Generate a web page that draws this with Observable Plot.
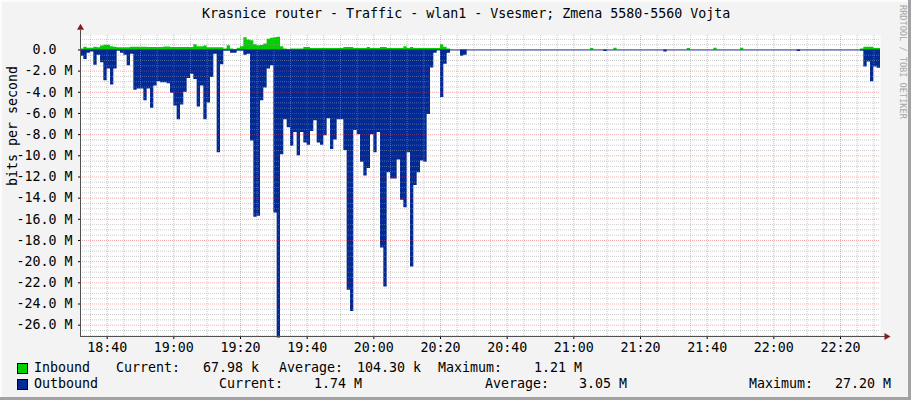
<!DOCTYPE html>
<html><head><meta charset="utf-8">
<script src="https://cdn.jsdelivr.net/npm/d3@7"></script>
<script src="https://cdn.jsdelivr.net/npm/@observablehq/plot@0.6"></script>
<style>
body{margin:0;background:#F3F3F3;}
#c{position:relative;width:911px;height:400px;background:#F3F3F3;overflow:hidden;font-family:"DejaVu Sans Mono",monospace;font-size:13.3px;color:#000;}
.t{position:absolute;white-space:pre;line-height:16px;}
.sw{position:absolute;width:9px;height:9px;border:1px solid #000;}
</style></head>
<body><div id="c"></div>
<script>
// Series values in Mbit/s, one per minute starting 18:32 (up to 22:32)
const inbound = [
 0.1,0.25,0.15,0.15,0.25,0.2,0.38,0.44,0.44,0.3, 0.25,0.2,0.2,0.2,0.2,0.25,0.25,0.25,0.25,0.25,
 0.22,0.22,0.22,0.22,0.22,0.27,0.27,0.22,0.22,0.22, 0.22,0.22,0.22,0.22,0.5,0.3,0.3,0.38,0.2,0.2,
 0.2,0.2,0.2,0.1,0.4,0.1,0.05,0.15,0.3,1.15, 0.95,0.88,0.5,0.4,0.42,0.57,1.0,1.1,1.15,1.21,
 0.3,0.1,0.03,0.1,0.1,0.1,0.1,0.22,0.22,0.13, 0.13,0.13,0.13,0.13,0.13,0.13,0.13,0.13,0.13,0.22,
 0.22,0.22,0.13,0.13,0.13,0.13,0.22,0.13,0.13,0.13, 0.22,0.22,0.13,0.13,0.13,0.13,0.13,0.3,0.13,0.22,
 0.13,0.13,0.13,0.13,0.13,0.13,0.13,0.13,0.5,0.25, 0.1,0.03,0,0,0,0,0,0,0,0,
 0,0,0,0,0,0,0,0,0,0, 0,0,0,0,0,0,0,0,0,0,
 0,0,0,0,0,0,0,0,0,0, 0,0,0,0.13,0,0,0,0,0,0,
 0.15,0,0,0,0,0,0,0,0,0, 0,0,0,0,0,0,0,0,0,0,
 0,0,0.13,0,0,0,0,0,0,0, 0.15,0,0,0,0,0,0,0,0.15,0,
 0,0,0,0,0,0,0,0,0,0, 0,0,0,0,0,0,0,0,0,0,
 0,0,0,0,0,0,0,0,0,0, 0,0,0,0,0.1,0.26,0.26,0.26,0.13,0.13,
 0.068
];
const outbound = [
 0.6,0.9,0.3,0.2,1.45,0.5,1.2,2.9,1.8,3.3, 1.8,0.1,0.3,0.5,1.5,0.4,3.8,3.7,3.7,4.8,
 3.7,5.5,3.4,3.0,3.1,3.1,3.2,4.1,5.3,6.6, 5.2,4.0,2.7,2.3,2.8,5.4,3.4,6.6,5.0,2.6,
 0.4,9.7,1.4,0.1,0.1,0.3,0.3,0.1,0.1,0.5, 0.4,8.6,15.8,15.7,4.8,3.6,1.8,1.5,15.4,27.2,
 9.9,6.6,7.35,9.1,7.8,10.0,7.8,8.8,9.0,7.7, 6.7,8.8,9.0,8.1,6.5,9.4,8.5,6.6,6.6,9.5,
 22.7,24.7,7.6,8.0,10.6,11.9,11.2,8.0,9.7,7.8, 18.7,22.4,11.6,12.2,12.2,10.4,14.2,14.9,9.7,20.5,
 12.8,11.6,10.5,10.6,6.1,1.7,0.3,0.05,4.5,1.35, 0.3,0,0,0,0.6,0.5,0,0,0,0,
 0,0,0,0,0,0,0,0,0,0, 0,0,0,0,0,0,0,0,0,0,
 0,0,0,0,0,0,0,0,0,0, 0,0,0,0,0,0,0,0.15,0,0,
 0,0,0,0,0,0,0,0,0,0, 0,0,0,0,0,0.2,0,0,0,0,
 0,0,0,0,0,0,0,0,0,0, 0,0,0,0,0,0,0,0,0,0,
 0,0,0,0,0,0,0,0,0,0, 0,0,0,0,0,0.15,0,0,0,0,
 0,0,0,0,0,0,0,0,0,0, 0,0,0,0,0.1,1.6,1.15,3.0,1.6,1.74,
 1.74
];
const xTickLabels = ["18:40","19:00","19:20","19:40","20:00","20:20","20:40","21:00","21:20","21:40","22:00","22:20"];
const yTickValues = [0,-2,-4,-6,-8,-10,-12,-14,-16,-18,-20,-22,-24,-26];
const title = "Krasnice router - Traffic - wlan1 - Vsesmer; Zmena 5580-5560 Vojta";
const yLabel = "bits per second";
const legendRows = [
  {name:"Inbound", color:"#00CF00", items:[["Current:",116],["67.98 k",203],["Average:",279],["104.30 k",357],["Maximum:",438],["1.21 M",534]]},
  {name:"Outbound", color:"#002A97", items:[["Current:",219],["1.74 M",314],["Average:",485],["3.05 M",579],["Maximum:",749],["27.20 M",835]]}
];

const day = [2024,0,1];
const t0 = new Date(...day,18,32);
const tAt = i => new Date(+t0 + i*60000);
const tEnd = tAt(240);
const inRows = inbound.map((v,i)=>({t:tAt(i), v:v*1e6}));
const outRows = outbound.map((v,i)=>({t:tAt(i), v:-v*1e6}));
const xTicks = xTickLabels.map(s=>{const [h,m]=s.split(":").map(Number); return new Date(...day,h,m);});
const minorX = d3.timeMinute.every(5).range(tAt(0.01), tEnd).filter(d=>d.getMinutes()%20!==0);
const majorX = d3.timeMinute.every(20).range(tAt(0.01), tEnd);
const yMin = -27.07e6, yMax = 1.365e6;
const minorY = d3.range(-54, 3).map(k=>k*0.5e6).filter(v=>v%2e6!==0 && v>yMin && v<yMax);
const majorY = yTickValues.map(v=>v*1e6);

const c = document.getElementById("c");
const chart = Plot.plot({
  width: 911, height: 327,
  marginLeft: 80, marginRight: 31, marginTop: 7, marginBottom: 19,
  style: {background:"transparent", fontFamily:"DejaVu Sans Mono", fontSize:"13.3px", color:"#000", overflow:"visible"},
  x: {type:"time", domain:[t0, tEnd], ticks: xTicks, tickFormat: d3.timeFormat("%H:%M"), tickSize: 3, tickPadding: 3, label: null},
  y: {domain:[yMin, yMax], ticks: majorY, tickFormat: v => v===0 ? "0.0\u00a0\u00a0" : (v/1e6).toFixed(1)+" M", tickSize: 2, tickPadding: 6, label: null},
  marks: [
    Plot.frame({fill:"white", stroke:null}),
    Plot.areaY(inRows, {x:"t", y:"v", curve:"step-after", fill:"#00CF00"}),
    Plot.areaY(outRows, {x:"t", y:"v", curve:"step-after", fill:"#002A97"}),
    Plot.ruleX(minorX, {stroke:"#9A9A9A", strokeOpacity:0.5, strokeDasharray:"1,1"}),
    Plot.ruleY(minorY, {stroke:"#9A9A9A", strokeOpacity:0.5, strokeDasharray:"1,1"}),
    Plot.ruleX(majorX, {stroke:"#E04848", strokeOpacity:0.45, strokeDasharray:"1,1"}),
    Plot.ruleY(majorY.filter(v=>v!==0), {stroke:"#E04848", strokeOpacity:0.45, strokeDasharray:"1,1"}),
    Plot.ruleY([0], {stroke:"#1B2A8A", strokeWidth:1}),
    Plot.ruleY([yMin], {x1:t0, x2:tAt(241.6), stroke:"#505050"}),
    Plot.ruleX([t0], {y1:yMin, y2:1.85e6, stroke:"#505050"}),
    Plot.dot([0], {x:()=>tAt(241.8), y:()=>yMin, symbol:"triangle", r:2.6, fill:"#8B1A1A", stroke:null, rotate:90}),
    Plot.dot([0], {x:()=>t0, y:()=>2.1e6, symbol:"triangle", r:2.6, fill:"#8B1A1A", stroke:null}),
    Plot.text([yLabel], {frameAnchor:"left", dx:-68, rotate:-90, fontSize:13.3, fill:"#000"})
  ]
});
chart.style.position = "absolute";
chart.style.left = "0px";
chart.style.top = "28px";
c.appendChild(chart);

function addText(txt, left, top, extra){
  const s = document.createElement("div");
  s.className = "t"; s.textContent = txt;
  s.style.left = left+"px"; s.style.top = top+"px";
  if (extra) Object.assign(s.style, extra);
  c.appendChild(s);
  return s;
}
addText(title, 202, 6);
addText("RRDTOOL / TOBI OETIKER", 898, 5, {writingMode:"vertical-rl", fontSize:"8.6px", lineHeight:"9px", color:"#A6A6A6"});
legendRows.forEach((r,k)=>{
  const top = 360 + k*16;
  const sw = document.createElement("div");
  sw.className = "sw"; sw.style.background = r.color;
  sw.style.left = "17px"; sw.style.top = (top+3)+"px";
  c.appendChild(sw);
  addText(r.name, 34, top);
  r.items.forEach(([txt,x])=>addText(txt, x, top));
});
// frame edges
[["0px","0px","911px","2px","#FCFCFC"],["0px","0px","2px","400px","#FCFCFC"],["908px","0px","3px","400px","#A2A2A2"],["0px","397px","911px","3px","#A2A2A2"]].forEach(([l,t,w,h,col])=>{
  const d=document.createElement("div"); Object.assign(d.style,{position:"absolute",left:l,top:t,width:w,height:h,background:col}); c.appendChild(d);
});
</script>
</body></html>
